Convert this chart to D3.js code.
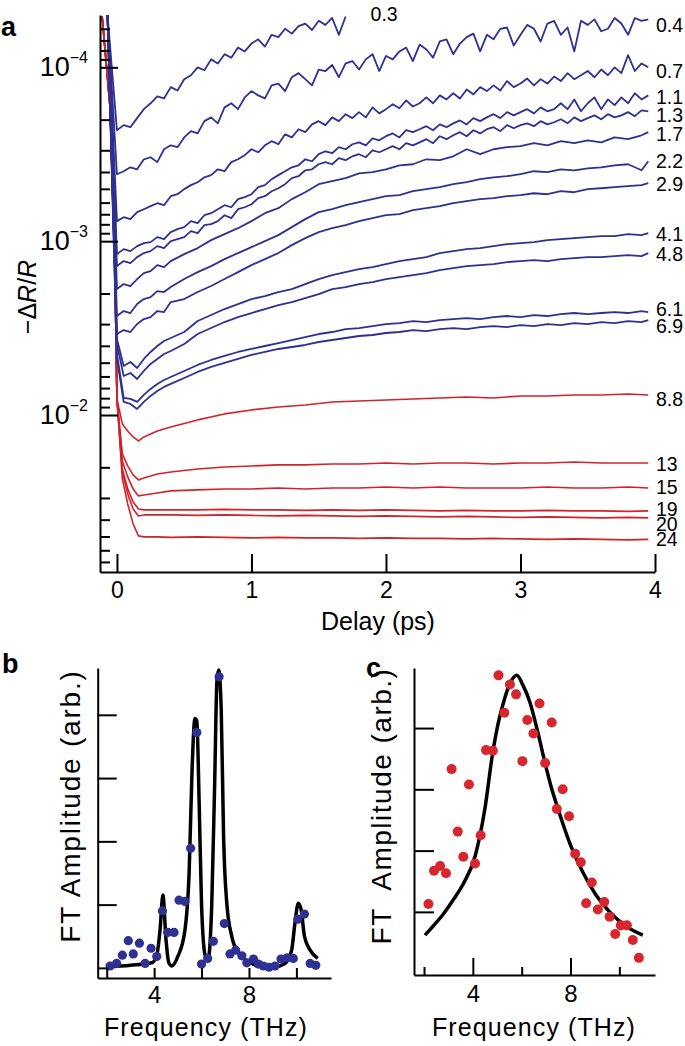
<!DOCTYPE html>
<html>
<head>
<meta charset="utf-8">
<script src="https://cdn.jsdelivr.net/npm/d3@7"></script>
<style>
  html, body { margin: 0; padding: 0; background: #fff; }
  svg { display: block; font-family: "Liberation Sans", Arial, Helvetica, sans-serif; }
</style>
</head>
<body>
<svg id="fig" width="685" height="1046"></svg>
<script>
// ---------- panel a: -dR/R traces, values in units of 1e-3 ----------
const delayFine = [-0.07, 0, 0.05, 0.1, 0.15, 0.2, 0.25, 0.3, 0.35, 0.4, 0.45, 0.5, 0.55, 0.6, 0.65, 0.7, 0.75, 0.8, 0.85, 0.9, 0.95,
  1, 1.05, 1.1, 1.15, 1.2, 1.25, 1.3, 1.35, 1.4, 1.45, 1.5, 1.55, 1.6, 1.65, 1.7, 1.75, 1.8, 1.85, 1.9, 1.95,
  2, 2.05, 2.1, 2.15, 2.2, 2.25, 2.3, 2.35, 2.4, 2.45, 2.5, 2.55, 2.6, 2.65, 2.7, 2.75, 2.8, 2.85, 2.9, 2.95,
  3, 3.05, 3.1, 3.15, 3.2, 3.25, 3.3, 3.35, 3.4, 3.45, 3.5, 3.55, 3.6, 3.65, 3.7, 3.75, 3.8, 3.85, 3.9, 3.95];
const delayBlue = [-0.07, 0, 0.05, 0.1, 0.15, 0.2, 0.25, 0.3, 0.35, 0.4, 0.5, 0.6, 0.7, 0.8, 0.9, 1, 1.1, 1.2, 1.3, 1.4,
  1.5, 1.6, 1.7, 1.8, 1.9, 2, 2.1, 2.2, 2.3, 2.4, 2.5, 2.6, 2.7, 2.8, 2.9, 3, 3.1, 3.2, 3.3, 3.4, 3.5, 3.6, 3.7, 3.8, 3.9, 3.95];
const delayRed = [-0.11, -0.05, -0.015, 0, 0.04, 0.08, 0.12, 0.16, 0.2, 0.3, 0.4, 0.6, 0.8, 1, 1.2, 1.4, 1.6, 1.8, 2,
  2.2, 2.4, 2.6, 2.8, 3, 3.2, 3.4, 3.6, 3.8, 3.95];

const dr_0_3 = [0.05, 0.230, 0.215, 0.221, 0.196, 0.174, 0.161, 0.147, 0.151, 0.130, 0.136, 0.117, 0.111, 0.100, 0.104, 0.090,
  0.095, 0.084, 0.088, 0.077, 0.081, 0.073, 0.069, 0.076, 0.065, 0.067, 0.060, 0.064, 0.058, 0.056, 0.061, 0.054, 0.057,
  0.052, 0.065, 0.051];
const dr_0_4 = [0.05, 0.412, 0.396, 0.376, 0.386, 0.338, 0.329, 0.351, 0.296, 0.281, 0.288,
  0.253, 0.233, 0.240, 0.204, 0.194, 0.210, 0.170, 0.161, 0.174, 0.149,
  0.137, 0.145, 0.151, 0.127, 0.124, 0.137, 0.114, 0.108, 0.117, 0.127,
  0.103, 0.105, 0.097, 0.114, 0.095, 0.092, 0.103, 0.090, 0.084, 0.105,
  0.086, 0.090, 0.081, 0.077, 0.092, 0.074, 0.079, 0.088, 0.071, 0.069,
  0.084, 0.073, 0.067, 0.064, 0.081, 0.065, 0.069, 0.060, 0.059, 0.075,
  0.065, 0.057, 0.060, 0.071, 0.056, 0.054, 0.065, 0.059, 0.081, 0.054,
  0.057, 0.053, 0.062, 0.060, 0.052, 0.056, 0.065, 0.052, 0.054, 0.053];
const dr_0_7 = [0.05, 0.767, 0.728, 0.747, 0.681, 0.655, 0.629, 0.605, 0.621, 0.551, 0.537,
  0.502, 0.476, 0.458, 0.429, 0.417, 0.386, 0.396, 0.351, 0.338, 0.320,
  0.296, 0.308, 0.281, 0.266, 0.277, 0.243, 0.253, 0.227, 0.236, 0.213,
  0.204, 0.215, 0.194, 0.204, 0.186, 0.196, 0.181, 0.194, 0.170, 0.184,
  0.174, 0.163, 0.172, 0.155, 0.168, 0.161, 0.149, 0.161, 0.145, 0.153,
  0.141, 0.151, 0.134, 0.143, 0.130, 0.137, 0.127, 0.136, 0.120, 0.130,
  0.124, 0.116, 0.127, 0.117, 0.124, 0.113, 0.120, 0.108, 0.117, 0.111,
  0.105, 0.114, 0.103, 0.111, 0.100, 0.108, 0.085, 0.105, 0.095, 0.100];
const dr_1_1 = [0.05, 1.187, 1.111, 1.141, 1.068, 1.026, 1.013, 0.948, 0.973, 0.887, 0.853,
  0.830, 0.767, 0.788, 0.709, 0.690, 0.655, 0.621, 0.638, 0.573, 0.558,
  0.537, 0.489, 0.476, 0.440, 0.417, 0.396, 0.376, 0.366, 0.338, 0.347,
  0.316, 0.304, 0.312, 0.288, 0.296, 0.277, 0.270, 0.281, 0.256, 0.263,
  0.249, 0.240, 0.253, 0.230, 0.236, 0.227, 0.218, 0.230, 0.213, 0.221,
  0.210, 0.202, 0.213, 0.196, 0.204, 0.194, 0.186, 0.196, 0.181, 0.189,
  0.181, 0.174, 0.184, 0.170, 0.179, 0.174, 0.161, 0.174, 0.153, 0.179,
  0.161, 0.149, 0.174, 0.153, 0.165, 0.149, 0.161, 0.141, 0.153, 0.145];
const dr_1_3 = [0.05, 1.391, 1.302, 1.337, 1.235, 1.171, 1.141, 1.068, 1.096, 1.000, 0.973,
  0.948, 0.876, 0.899, 0.809, 0.798, 0.767, 0.709, 0.737, 0.655, 0.638,
  0.613, 0.566, 0.551, 0.516, 0.496, 0.470, 0.434, 0.423, 0.391, 0.386,
  0.361, 0.351, 0.361, 0.333, 0.342, 0.325, 0.316, 0.329, 0.300, 0.308,
  0.296, 0.284, 0.296, 0.273, 0.281, 0.270, 0.259, 0.273, 0.249, 0.259,
  0.246, 0.236, 0.249, 0.230, 0.240, 0.227, 0.221, 0.233, 0.215, 0.224,
  0.215, 0.210, 0.218, 0.204, 0.213, 0.207, 0.199, 0.210, 0.194, 0.204,
  0.196, 0.189, 0.199, 0.186, 0.194, 0.189, 0.181, 0.191, 0.177, 0.179];
const dr_1_7 = [0.05, 1.886, 1.765, 1.812, 1.652, 1.527, 1.487, 1.373, 1.410, 1.302,
  1.187, 1.096, 0.986, 0.911, 0.842, 0.767, 0.690, 0.646, 0.573, 0.523,
  0.470, 0.452, 0.434, 0.407, 0.401, 0.386, 0.366, 0.361, 0.338, 0.342,
  0.325, 0.296, 0.316, 0.296, 0.288, 0.284, 0.273, 0.281, 0.266, 0.273,
  0.263, 0.270, 0.253, 0.259, 0.246, 0.236];
const dr_2_2 = [0.05, 2.695, 2.523, 2.590, 2.300, 2.153, 2.097, 1.937, 1.962, 1.837,
  1.652, 1.507, 1.391, 1.268, 1.171, 1.082, 1.000, 0.923, 0.830, 0.747,
  0.681, 0.655, 0.621, 0.597, 0.573, 0.551, 0.544, 0.516, 0.502, 0.489,
  0.470, 0.458, 0.440, 0.429, 0.423, 0.412, 0.396, 0.401, 0.386, 0.391,
  0.381, 0.376, 0.366, 0.361, 0.391, 0.347];
const dr_2_9 = [0.05, 3.420, 3.245, 3.332, 2.997, 2.805, 2.732, 2.523, 2.557, 2.240,
  2.153, 1.962, 1.812, 1.652, 1.507, 1.373, 1.268, 1.171, 1.054, 0.961,
  0.887, 0.842, 0.809, 0.767, 0.737, 0.709, 0.699, 0.663, 0.646, 0.629,
  0.605, 0.589, 0.573, 0.566, 0.551, 0.544, 0.530, 0.537, 0.516, 0.523,
  0.502, 0.496, 0.489, 0.483, 0.476, 0.464];
const dr_4_1 = [0.05, 3.654, 5.222, 4.953, 5.363, 4.761, 4.340, 4.009, 3.752, 3.606,
  3.331, 2.880, 2.660, 2.457, 2.300, 2.153, 2.069, 1.962, 1.886, 1.765,
  1.652, 1.568, 1.507, 1.448, 1.410, 1.355, 1.302, 1.268, 1.235, 1.171,
  1.141, 1.111, 1.096, 1.068, 1.040, 1.026, 1.013, 0.986, 0.973, 0.961,
  0.948, 0.935, 0.935, 0.911, 0.923, 0.899];
const dr_4_8 = [0.05, 3.904, 5.962, 5.730, 6.203, 5.580, 5.086, 4.761, 4.456, 4.283,
  3.904, 3.420, 3.160, 2.919, 2.732, 2.590, 2.457, 2.331, 2.240, 2.125,
  2.015, 1.886, 1.837, 1.765, 1.719, 1.652, 1.609, 1.568, 1.527, 1.467,
  1.429, 1.391, 1.373, 1.355, 1.319, 1.302, 1.285, 1.302, 1.268, 1.251,
  1.235, 1.235, 1.219, 1.203, 1.219, 1.171];
const dr_6_1 = [0.05, 4.456, 7.976, 8.082, 8.409, 7.666, 7.080, 6.627, 6.286, 6.041,
  5.580, 5.154, 4.824, 4.575, 4.340, 4.171, 4.009, 3.853, 3.703, 3.559,
  3.420, 3.331, 3.202, 3.160, 3.077, 2.997, 2.958, 2.880, 2.919, 2.842,
  2.805, 2.768, 2.805, 2.732, 2.695, 2.732, 2.660, 2.695, 2.625, 2.590,
  2.625, 2.590, 2.557, 2.590, 2.523, 2.557];
const dr_6_9 = [0.05, 4.761, 8.409, 8.635, 9.225, 8.409, 7.768, 7.270, 6.895, 6.627,
  6.122, 5.654, 5.292, 5.019, 4.761, 4.515, 4.340, 4.171, 4.062, 3.956,
  3.802, 3.703, 3.606, 3.512, 3.466, 3.375, 3.331, 3.245, 3.288, 3.202,
  3.160, 3.202, 3.118, 3.077, 3.118, 3.037, 3.077, 2.997, 3.037, 2.958,
  2.997, 2.919, 2.958, 2.880, 2.919, 2.842];
const dr_8_8 = [0.051, 0.174, 1.448, 8.082, 11.25, 12.35, 13.37, 14.10, 13.37, 12.35, 11.71,
  10.67, 9.856, 9.348, 8.985, 8.750, 8.409, 8.299, 8.190, 8.082, 7.976, 7.871, 7.976, 7.768, 7.768,
  7.666, 7.666, 7.565, 7.666];
const dr_13 = [0.051, 0.174, 1.448, 8.082, 16.75, 19.63, 22.12, 23.63, 23.01, 21.83, 21.26,
  20.43, 19.90, 19.63, 19.37, 19.37, 19.12, 19.12, 18.87, 19.12, 18.87, 18.87, 19.12, 18.87, 18.87,
  18.62, 18.87, 18.87, 18.87];
const dr_15 = [0.051, 0.174, 1.448, 8.082, 18.37, 22.71, 26.62, 29.20, 28.82, 28.07, 27.33,
  26.97, 26.62, 26.62, 26.27, 26.62, 26.27, 26.27, 25.93, 26.27, 25.93, 26.27, 26.27, 26.27, 25.93,
  26.27, 26.27, 25.93, 26.27];
const dr_19 = [0.051, 0.174, 1.448, 8.082, 20.43, 26.62, 31.62, 34.69, 35.15, 35.15, 35.15,
  35.15, 34.92, 35.15, 35.15, 35.38, 35.15, 35.38, 35.15, 35.38, 35.62, 35.38, 35.62, 35.62, 35.38,
  35.62, 35.62, 35.86, 35.62];
const dr_20 = [0.051, 0.174, 1.448, 8.082, 21.26, 28.44, 34.69, 38.06, 37.56, 37.56, 37.56,
  37.81, 37.56, 37.81, 38.06, 37.81, 38.06, 38.31, 38.06, 38.31, 38.57, 38.31, 38.57, 38.82, 38.57,
  38.82, 39.08, 38.82, 39.08];
const dr_24 = [0.051, 0.174, 1.448, 8.082, 23.32, 32.47, 42.31, 49.59, 50.25, 50.25, 50.59,
  50.25, 50.59, 50.93, 50.59, 50.93, 50.93, 51.27, 50.93, 51.27, 51.27, 51.61, 51.27, 51.61, 51.95,
  51.61, 51.95, 52.30, 51.95];

// trace labels (fluence) in drawing order
const blueLabels = ["0.3", "0.4", "0.7", "1.1", "1.3", "1.7", "2.2", "2.9", "4.1", "4.8", "6.1", "6.9"];
const redLabels = ["8.8", "13", "15", "19", "20", "24"];

// ---------- panel b: FT amplitude (blue points + fit) ----------
const freqB = [2.14, 2.42, 2.66, 2.91, 3.12, 3.38, 3.62, 3.87, 4.11, 4.35, 4.57, 4.84, 5.05, 5.3, 5.54, 5.8, 6.0, 6.26,
  6.5, 6.74, 6.96, 7.2, 7.44, 7.7, 7.91, 8.19, 8.4, 8.61, 8.85, 9.1, 9.35, 9.62, 9.87, 10.06, 10.34, 10.58, 10.82];
const ampB = [0.03, 0.07, 0.2, 0.43, 0.22, 0.39, 0.07, 0.31, 0.18, 0.9, 0.56, 0.56, 1.07, 1.05, 1.89, 3.72, 0.06, 0.15,
  0.42, 4.6, 0.7, 0.22, 0.28, 0.19, 0.08, 0.14, 0.06, 0.03, 0.01, 0.03, 0.14, 0.16, 0.15, 0.77, 0.85, 0.07, 0.04];
const fitFreqB = [2.0, 3.0, 3.9, 4.1, 4.25, 4.37, 4.5, 4.62, 4.75, 5.0, 5.3, 5.48, 5.6, 5.72, 5.8, 5.9, 6.0, 6.15, 6.27,
  6.43, 6.55, 6.65, 6.72, 6.83, 6.93, 7.07, 7.28, 7.56, 7.98, 8.54, 9.1, 9.52, 9.8, 9.94, 10.08, 10.2, 10.34, 10.58, 10.9];
const fitAmpB = [0.01, 0.04, 0.08, 0.18, 0.6, 1.15, 0.45, 0.08, 0.03, 0.18, 0.6, 1.55, 3.13, 3.94, 3.9, 2.6, 1.0, 0.2, 0.12,
  1.0, 2.86, 4.55, 4.71, 4.08, 2.07, 1.0, 0.49, 0.23, 0.1, 0.02, 0.02, 0.07, 0.28, 0.71, 1.02, 0.92, 0.5, 0.28, 0.15];

// ---------- panel c: FT amplitude (red points + fit) ----------
const freqC = [2.18, 2.41, 2.66, 2.9, 3.13, 3.38, 3.61, 3.84, 4.09, 4.32, 4.54, 4.82, 5.05, 5.29, 5.52, 5.77, 6.03, 6.23,
  6.48, 6.73, 6.96, 7.23, 7.44, 7.68, 7.94, 8.19, 8.42, 8.64, 8.87, 9.12, 9.38, 9.6, 9.83, 10.06, 10.31, 10.55, 10.8];
const ampC = [1.13, 1.67, 1.75, 1.63, 3.33, 2.31, 1.9, 3.08, 1.79, 2.25, 3.64, 3.63, 4.86, 4.25, 4.71, 4.55, 3.46, 4.13,
  3.91, 4.4, 3.43, 4.09, 2.68, 3.0, 2.56, 1.95, 1.81, 1.14, 1.48, 1.04, 1.16, 0.92, 0.64, 0.78, 0.78, 0.54, 0.25];
const fitFreqC = [2.04, 2.4, 2.8, 3.2, 3.6, 4.1, 4.5, 4.8, 5.05, 5.3, 5.55, 5.8, 6.05, 6.33, 6.65, 6.95, 7.2, 7.44, 8.0,
  8.5, 9.05, 9.6, 10.3, 10.96];
const fitAmpC = [0.62, 0.78, 0.97, 1.2, 1.45, 1.92, 2.7, 3.56, 4.1, 4.48, 4.75, 4.86, 4.7, 4.43, 3.95, 3.44, 3.05, 2.74,
  2.09, 1.65, 1.27, 1.0, 0.76, 0.62];

// ---------------------------------------------------------------
const BLUE = "#2e3192", RED = "#d2232a";
const svg = d3.select("#fig");

// ===== panel a =====
const xA = d3.scaleLinear().domain([-0.126, 4]).range([100, 655]);
const yA = d3.scaleLog().domain([5e-5, 8e-2]).range([15, 572]);

svg.append("clipPath").attr("id", "clipA")
  .append("rect").attr("x", 100).attr("y", 15).attr("width", 555).attr("height", 557);

const blueSeries = [dr_0_3, dr_0_4, dr_0_7, dr_1_1, dr_1_3, dr_1_7, dr_2_2, dr_2_9, dr_4_1, dr_4_8, dr_6_1, dr_6_9];
const blueDelays = [delayFine, delayFine, delayFine, delayFine, delayFine, delayBlue, delayBlue, delayBlue,
  delayBlue, delayBlue, delayBlue, delayBlue];
const redSeries = [dr_8_8, dr_13, dr_15, dr_19, dr_20, dr_24];

const traces = [];
redSeries.forEach((vals, i) => traces.push({ label: redLabels[i], color: RED,
  pts: vals.map((v, j) => [delayRed[j], v]) }));
blueSeries.forEach((vals, i) => traces.push({ label: blueLabels[i], color: BLUE,
  pts: vals.map((v, j) => [blueDelays[i][j], v]) }));

const lineA = d3.line().x(d => xA(d[0])).y(d => yA(d[1] * 1e-3));

svg.append("g").attr("clip-path", "url(#clipA)")
  .selectAll("path").data(traces).join("path")
  .attr("d", d => lineA(d.pts))
  .attr("fill", "none")
  .attr("stroke", d => d.color)
  .attr("stroke-width", d => d.color === RED ? 1.6 : 1.8)
  .attr("stroke-linejoin", "round");

// end-of-trace labels
const nudge = { "0.3": -3, "0.4": 6, "0.7": 4, "1.1": 2, "1.3": 4, "1.7": 2, "2.2": 0, "2.9": 1, "4.1": 1, "4.8": 1,
  "6.1": -3, "6.9": 6, "8.8": 4, "13": 1, "15": -1, "19": -2, "20": 6, "24": 0 };
svg.append("g").selectAll("text").data(traces).join("text")
  .attr("x", d => d.label === "0.3" ? xA(d.pts[d.pts.length - 1][0]) + 25 : 656)
  .attr("y", d => yA(d.pts[d.pts.length - 1][1] * 1e-3) + nudge[d.label])
  .attr("dy", "0.36em")
  .attr("font-size", 19.5)
  .text(d => d.label);

// axes
const axA = svg.append("g").attr("transform", "translate(0,572)")
  .call(d3.axisBottom(xA).tickValues([0, 1, 2, 3, 4]).tickFormat(d3.format("d"))
    .tickSizeInner(-18).tickSizeOuter(0).tickPadding(10));
axA.selectAll("text").attr("font-size", 23).attr("fill", "#000");

const minorTicks = [6e-5, 7e-5, 8e-5, 9e-5, 2e-4, 3e-4, 4e-4, 5e-4, 6e-4, 7e-4, 8e-4, 9e-4,
  2e-3, 3e-3, 4e-3, 5e-3, 6e-3, 7e-3, 8e-3, 9e-3, 2e-2, 3e-2, 4e-2, 5e-2, 6e-2, 7e-2];
svg.append("g").attr("transform", "translate(100,0)")
  .call(d3.axisLeft(yA).tickValues(minorTicks).tickFormat("").tickSizeInner(-10).tickSizeOuter(0))
  .select(".domain").remove();
const ayA = svg.append("g").attr("transform", "translate(100,0)")
  .call(d3.axisLeft(yA).tickValues([1e-4, 1e-3, 1e-2]).tickSizeInner(-18).tickSizeOuter(0).tickPadding(12));
ayA.selectAll(".tick text").each(function (d) {
  const t = d3.select(this).text("10").attr("font-size", 27).attr("fill", "#000");
  t.append("tspan").attr("dy", -13).attr("font-size", 16).text("\u2212" + Math.round(-Math.log10(d)));
});

svg.append("text").attr("x", 378).attr("y", 630).attr("text-anchor", "middle")
  .attr("font-size", 25).text("Delay (ps)");
const yl = svg.append("text").attr("transform", "translate(36,297) rotate(-90)")
  .attr("text-anchor", "middle").attr("font-size", 25);
yl.append("tspan").text("\u2212\u0394");
yl.append("tspan").attr("font-style", "italic").text("R");
yl.append("tspan").text("/");
yl.append("tspan").attr("font-style", "italic").text("R");

svg.append("text").attr("x", 1).attr("y", 36).attr("font-size", 27).attr("font-weight", "bold").text("a");

// ===== panel b =====
const xB = d3.scaleLinear().domain([1.62, 11.46]).range([97.7, 331]);
const yB = d3.scaleLinear().domain([-0.16, 4.74]).range([978, 668]);

svg.append("path")
  .datum(fitFreqB.map((f, i) => [f, fitAmpB[i]]))
  .attr("d", d3.line().x(d => xB(d[0])).y(d => yB(d[1])).curve(d3.curveMonotoneX))
  .attr("fill", "none").attr("stroke", "#000").attr("stroke-width", 3.5);
svg.append("g").selectAll("circle").data(freqB).join("circle")
  .attr("cx", d => xB(d)).attr("cy", (d, i) => yB(ampB[i])).attr("r", 4.6).attr("fill", BLUE);

const axB = svg.append("g").attr("transform", "translate(0,978)")
  .call(d3.axisBottom(xB).tickValues([2, 4, 6, 8, 10]).tickFormat(d => (d === 4 || d === 8) ? d : "")
    .tickSizeInner(-10).tickSizeOuter(0).tickPadding(8));
axB.selectAll("text").attr("font-size", 24).attr("fill", "#000");
const ayB = svg.append("g").attr("transform", "translate(97.7,0)")
  .call(d3.axisLeft(yB).tickValues([0, 1, 2, 3, 4]).tickFormat("").tickSizeInner(-19).tickSizeOuter(0));
ayB.selectAll(".tick line").filter(d => d === 0).attr("x2", 10);

svg.append("text").attr("x", 206).attr("y", 1036).attr("text-anchor", "middle")
  .attr("font-size", 25).attr("letter-spacing", 1.1).text("Frequency (THz)");
svg.append("text").attr("transform", "translate(80,806) rotate(-90)").attr("text-anchor", "middle")
  .attr("font-size", 28).attr("letter-spacing", 1.8).text("FT Amplitude (arb.)");
svg.append("text").attr("x", 2).attr("y", 673).attr("font-size", 27).attr("font-weight", "bold").text("b");

// ===== panel c =====
const xC = d3.scaleLinear().domain([1.59, 11.46]).range([414, 655]);
const yC = d3.scaleLinear().domain([-0.03, 4.98]).range([975, 668]);

svg.append("path")
  .datum(fitFreqC.map((f, i) => [f, fitAmpC[i]]))
  .attr("d", d3.line().x(d => xC(d[0])).y(d => yC(d[1])).curve(d3.curveMonotoneX))
  .attr("fill", "none").attr("stroke", "#000").attr("stroke-width", 3.5);
svg.append("g").selectAll("circle").data(freqC).join("circle")
  .attr("cx", d => xC(d)).attr("cy", (d, i) => yC(ampC[i])).attr("r", 5).attr("fill", "#d7262d");

const axC = svg.append("g").attr("transform", "translate(0,975)")
  .call(d3.axisBottom(xC).tickValues([2, 4, 6, 8, 10]).tickFormat(d => (d === 4 || d === 8) ? d : "")
    .tickSizeInner(-8).tickSizeOuter(0).tickPadding(10));
axC.selectAll(".tick line").filter(d => d === 4 || d === 8).attr("y2", -17);
axC.selectAll("text").attr("font-size", 24).attr("fill", "#000");
svg.append("g").attr("transform", "translate(414,0)")
  .call(d3.axisLeft(yC).tickValues([1, 2, 3, 4]).tickFormat("").tickSizeInner(-20).tickSizeOuter(0));

svg.append("text").attr("x", 534).attr("y", 1036).attr("text-anchor", "middle")
  .attr("font-size", 25).attr("letter-spacing", 1.1).text("Frequency (THz)");
svg.append("text").attr("transform", "translate(391,806) rotate(-90)").attr("text-anchor", "middle")
  .attr("font-size", 28).attr("letter-spacing", 1.5).style("white-space", "pre").text("FT  Amplitude (arb.)");
svg.append("text").attr("x", 366).attr("y", 677).attr("font-size", 27).attr("font-weight", "bold").text("c");

// common axis styling
svg.selectAll(".domain, .tick line").attr("stroke", "#000").attr("stroke-width", 2);
</script>
</body>
</html>
